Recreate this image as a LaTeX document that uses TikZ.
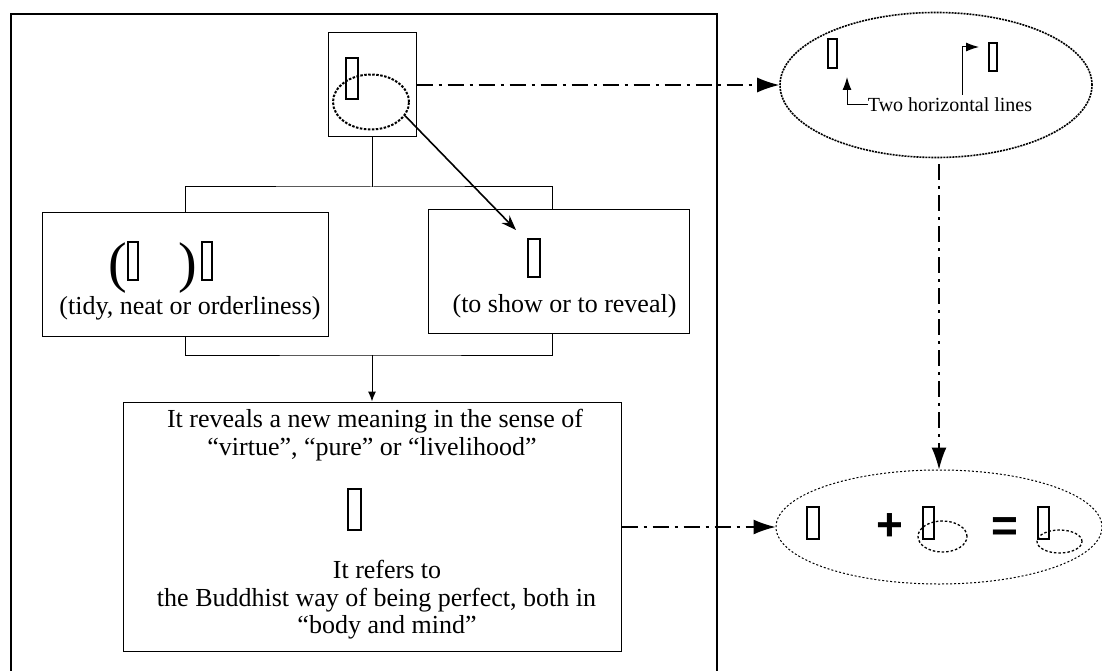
\documentclass[tikz,border=0pt]{standalone}
\usepackage{fontspec}
\setmainfont{Liberation Serif}
\newfontfamily\sansf{Liberation Sans}
\usetikzlibrary{arrows.meta,shapes.geometric}
\begin{document}
\begin{tikzpicture}[x=1pt,y=-1pt,
  boxn/.style={draw, line width=1pt, inner sep=0pt},
  gbox/.style={draw, line width=1.8pt, inner sep=0pt},
  txt/.style={inner sep=0pt, font=\fontsize{26}{29}\selectfont},
  smalltxt/.style={inner sep=0pt, font=\fontsize{20}{22}\selectfont},
  bigpar/.style={inner sep=0pt, font=\fontsize{56}{60}\selectfont},
  optxt/.style={inner sep=0pt, font=\sansf\bfseries\fontsize{46}{48}\selectfont},
  dd/.style={line width=1.3pt, dash pattern=on 16pt off 6pt on 3pt off 6pt},
  bigtip/.style={-{Latex[length=22pt,width=15pt]}},
  smalltip/.style={-{Latex[length=10pt,width=8pt]}},
  conn/.style={line width=1pt}
]
\useasboundingbox (0,0) rectangle (1102,671);
\fill[white] (0,0) rectangle (1102,671);

% outer frame
\draw[line width=1.5pt] (11,680) -- (11,14) -- (717,14) -- (717,680);

% top box
\node[boxn, minimum width=88pt, minimum height=104pt] (tb) at (372,84.5) {};
\node[gbox, minimum width=12pt, minimum height=41pt] (tg) at (352,78.5) {};
\node[draw, ellipse, line width=2pt, dash pattern=on 2.5pt off 1.5pt, inner sep=0pt,
      minimum width=76pt, minimum height=55pt] (te) at (371,102) {};

% left box
\node[boxn, minimum width=286pt, minimum height=124pt] (lb) at (185,274) {};
\node[bigpar] (lp1) at (117.5,268) {(};
\node[bigpar] (lp2) at (187.5,268) {)};
\node[gbox, minimum width=10pt, minimum height=38pt] (lg1) at (133,261) {};
\node[gbox, minimum width=10pt, minimum height=38pt] (lg2) at (207,261) {};
\node[txt] (lt) at (190,308) {(tidy, neat or orderliness)};

% right box
\node[boxn, minimum width=261pt, minimum height=124pt] (rb) at (558.5,271) {};
\node[gbox, minimum width=12pt, minimum height=38pt] (rg) at (534,258) {};
\node[txt] (rt) at (564.5,306) {(to show or to reveal)};

% bottom box
\node[boxn, minimum width=498pt, minimum height=249pt] (bb) at (372,526.5) {};
\node[txt] (bt1) at (375,421) {It reveals a new meaning in the sense of};
\node[txt] (bt2) at (372,449) {``virtue'', ``pure'' or ``livelihood''};
\node[gbox, minimum width=13pt, minimum height=41pt] (bg) at (354.5,509.5) {};
\node[txt] (bt3) at (387,569) {It refers to};
\node[txt] (bt4) at (376.5,600) {the Buddhist way of being perfect, both in};
\node[txt] (bt5) at (387,627) {``body and mind''};

% tree connectors
\coordinate (j1) at (372,187);
\coordinate (j2) at (372,355);
\coordinate (rtop) at (552,209);
\coordinate (rbot) at (552,333);
\draw[conn] (tb.south) -- (j1);
\draw[conn] (lb.north) |- (j1) -| (rtop);
\draw[conn] (lb.south) |- (j2) -| (rbot);
\draw[conn, smalltip] (j2) -- (bb.north);

% diagonal arrow
\coordinate (dtip) at (516,230);
\draw[line width=1.6pt, -{Stealth[length=15pt,width=11pt]}] (te.-22) -- (dtip);

% top right ellipse
\node[draw, ellipse, line width=1.6pt, dash pattern=on 2pt off 1pt, inner sep=0pt,
      minimum width=312pt, minimum height=145pt] (tre) at (936,85) {};
\node[gbox, line width=1.5pt, minimum width=9pt, minimum height=29pt] (trg1) at (832.5,53.5) {};
\node[gbox, line width=1.5pt, minimum width=8pt, minimum height=28pt] (trg2) at (993,57) {};
\node[smalltxt] (tw) at (950,105) {Two horizontal lines};
\coordinate (a1) at (847,77);
\coordinate (a2s) at (962,95);
\coordinate (a2) at (979,47);
\draw[conn, -{Latex[length=13pt,width=9pt]}] (tw.west) -| (a1);
\draw[conn, -{Latex[length=13pt,width=9pt]}] (a2s) |- (a2);

% bottom right ellipse
\node[draw, ellipse, line width=1pt, dash pattern=on 2pt off 2pt, inner sep=0pt,
      minimum width=326pt, minimum height=114pt] (bre) at (939,527) {};
\node[gbox, minimum width=12pt, minimum height=32pt] (brg1) at (813,523) {};
\node[optxt] (plus) at (890,527) {+};
\node[gbox, minimum width=11pt, minimum height=32pt] (brg2) at (928.5,523) {};
\node[draw, ellipse, line width=1.3pt, dash pattern=on 2.5pt off 2pt, inner sep=0pt,
      minimum width=49pt, minimum height=31pt] (se1) at (942.5,536.5) {};
\node[optxt] (eq) at (1004.5,530) {=};
\node[gbox, minimum width=11pt, minimum height=32pt] (brg3) at (1043.5,523) {};
\node[draw, ellipse, line width=1.3pt, dash pattern=on 2.5pt off 2pt, inner sep=0pt,
      minimum width=45pt, minimum height=23pt] (se2) at (1059.5,541.5) {};

% dash-dot connectors
\draw[dd, bigtip] (tb.east |- tre.west) -- (tre.west);
\draw[dd, bigtip, shorten <=6pt] (tre.south -| bre.north) -- (bre.north);
\draw[dd, bigtip] (bb.east |- bre.west) -- (bre.west);
\end{tikzpicture}
\end{document}
